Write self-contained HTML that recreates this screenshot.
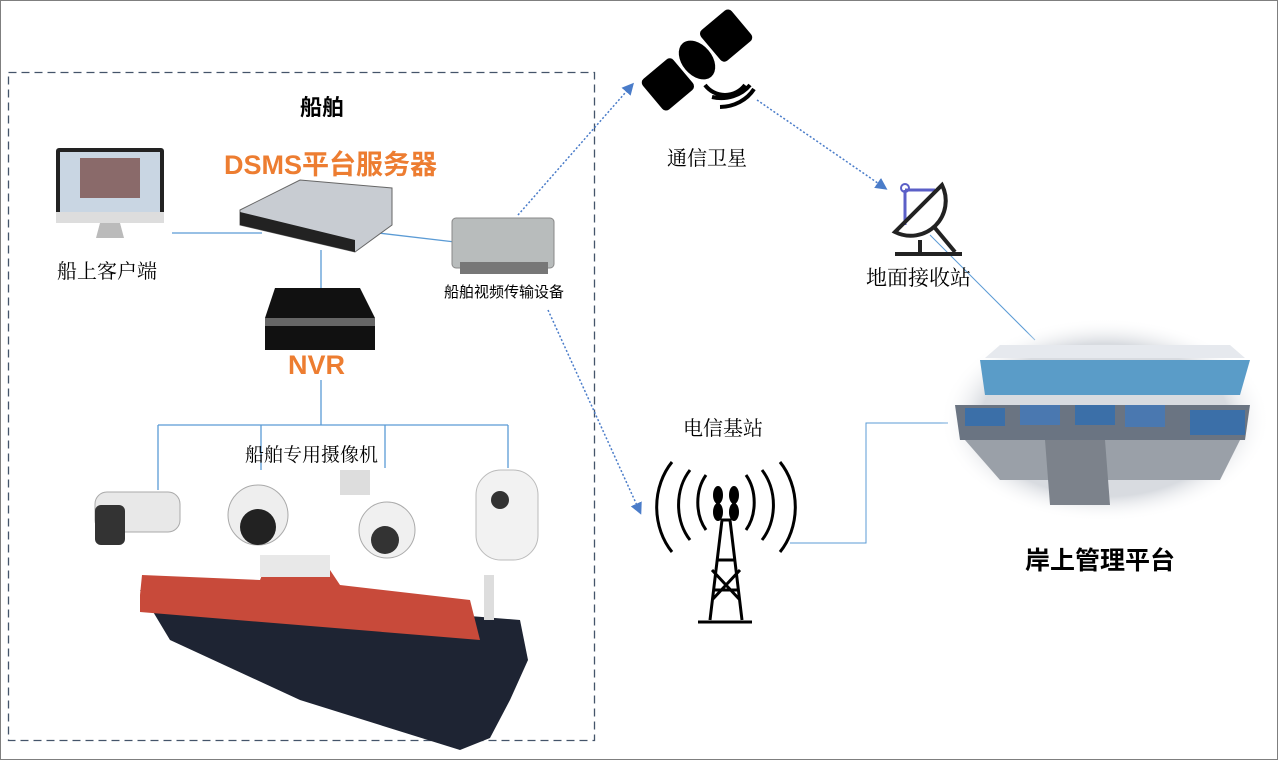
<!DOCTYPE html>
<html><head><meta charset="utf-8"><style>
body{margin:0;width:1280px;height:762px;background:#fff;overflow:hidden;font-family:"Liberation Sans","Noto Sans CJK SC",sans-serif}
.t{position:absolute;white-space:nowrap}
.s{font-family:"Noto Serif CJK SC","Liberation Serif",serif}
</style></head><body>
<svg width="1280" height="762" style="position:absolute;left:0;top:0">
<defs>
<marker id="a" markerWidth="8" markerHeight="8" refX="6" refY="4" orient="auto"><path d="M0,0 L8,4 L0,8z" fill="#4a7cc9"/></marker>
<radialGradient id="cr" cx="50%" cy="50%" r="50%"><stop offset="75%" stop-color="#d8dbe0"/><stop offset="100%" stop-color="#fff" stop-opacity="0"/></radialGradient>
</defs>
<rect x="0.5" y="0.5" width="1277" height="759" fill="none" stroke="#7f7f7f"/>
<rect x="8.5" y="72.5" width="586" height="668" fill="none" stroke="#44546a" stroke-width="1.3" stroke-dasharray="8,5"/>
<g stroke="#5b9bd5" stroke-width="1.3" fill="none">
<path d="M172,233 H262"/><path d="M370,232 L455,242"/><path d="M321,250 V290"/>
<path d="M321,380 V425 M158,425 H508 M158,425 V490 M261,425 V470 M385,425 V468 M508,425 V468"/>
<path d="M790,543 H866 V423 H948" stroke-width="1"/>
<path d="M930,235 L1035,340" stroke-width="1"/>
</g>
<g stroke="#4a7cc9" stroke-width="1.5" stroke-dasharray="2,2" fill="none" marker-end="url(#a)">
<path d="M518,215 L632,85"/><path d="M757,100 L885,188"/><path d="M548,310 L640,512"/>
</g>
<rect x="56" y="148" width="108" height="75" rx="3" fill="#222"/>
<rect x="60" y="152" width="100" height="60" fill="#c9d6e3"/>
<rect x="80" y="158" width="60" height="40" fill="#8a6a6a"/>
<rect x="56" y="212" width="108" height="11" fill="#ddd"/>
<path d="M100,223 H120 L124,238 H96z" fill="#bbb"/>
<path d="M240,210 L300,180 L392,188 L392,225 L355,252 L240,225z" fill="#c8ccd2" stroke="#666"/>
<path d="M240,212 L355,240 L355,252 L240,225z" fill="#222"/>
<rect x="452" y="218" width="102" height="50" rx="4" fill="#b8bcbc" stroke="#888"/>
<rect x="460" y="262" width="88" height="12" fill="#777"/>
<path d="M275,288 H360 L375,318 V350 H265 V318z" fill="#111"/>
<rect x="265" y="318" width="110" height="8" fill="#666"/>
<rect x="95" y="492" width="85" height="40" rx="12" fill="#e8e8e8" stroke="#aaa"/>
<rect x="95" y="505" width="30" height="40" rx="6" fill="#333"/>
<circle cx="258" cy="515" r="30" fill="#eee" stroke="#aaa"/>
<circle cx="258" cy="527" r="18" fill="#222"/>
<rect x="340" y="470" width="30" height="25" fill="#ddd"/>
<circle cx="387" cy="530" r="28" fill="#f0f0f0" stroke="#aaa"/>
<circle cx="385" cy="540" r="14" fill="#333"/>
<rect x="476" y="470" width="62" height="90" rx="25" fill="#f2f2f2" stroke="#bbb"/>
<circle cx="500" cy="500" r="9" fill="#333"/>
<path d="M140,590 L520,620 L528,660 L510,700 L490,738 L460,750 L300,700 L170,640 Z" fill="#1e2433"/>
<path d="M140,595 L142,575 L260,580 L265,568 L330,570 L340,585 L470,600 L480,640 L140,612 Z" fill="#c84a3a"/>
<rect x="260" y="555" width="70" height="22" fill="#e8e8e8"/>
<rect x="484" y="575" width="10" height="45" fill="#ddd"/>
<g fill="#000" transform="translate(697,60) rotate(-40)">
<rect x="-58" y="-20" width="40" height="40" rx="5"/><rect x="18" y="-20" width="40" height="40" rx="5"/>
<ellipse cx="0" cy="0" rx="15" ry="22"/>
</g>
<path d="M705,85 a25,25 0 0 0 40,0 M712,97 a35,30 0 0 0 38,-12 M720,107 a40,35 0 0 0 34,-18" stroke="#000" stroke-width="4" fill="none"/>
<path d="M905,190 V225 M905,190 L935,190" stroke="#5b5fc7" stroke-width="3" fill="none"/>
<circle cx="905" cy="188" r="4" fill="none" stroke="#5b5fc7" stroke-width="2"/>
<path d="M895,232 A35,35 0 0 0 942,185 Z" fill="none" stroke="#222" stroke-width="4"/>
<path d="M920,240 V252 M935,228 L955,252 M895,254 H962" stroke="#222" stroke-width="4"/>
<g stroke="#000" stroke-width="3" fill="none">
<path d="M698,622 H752 M710,620 L722,520 H730 L742,620 M714,590 L738,590 M716,560 H736 M712,600 L740,570 M712,570 L740,600"/>
<path d="M706,475 a30,40 0 0 0 0,55 M746,475 a30,40 0 0 1 0,55 M690,470 a40,50 0 0 0 0,70 M762,470 a40,50 0 0 1 0,70 M672,462 a55,65 0 0 0 0,90 M780,462 a55,65 0 0 1 0,90"/>
</g>
<ellipse cx="718" cy="495" rx="5" ry="9"/><ellipse cx="734" cy="495" rx="5" ry="9"/><ellipse cx="718" cy="512" rx="5" ry="9"/><ellipse cx="734" cy="512" rx="5" ry="9"/>
<ellipse cx="1105" cy="420" rx="165" ry="102" fill="url(#cr)"/>
<path d="M980,360 H1250 L1240,395 H985z" fill="#5a9cc8"/>
<path d="M1000,345 H1230 L1245,358 H985z" fill="#e6e9ee"/>
<path d="M955,405 L1250,405 L1245,440 L960,440z" fill="#6a7482"/>
<rect x="965" y="408" width="40" height="18" fill="#3b6fa8"/><rect x="1020" y="405" width="40" height="20" fill="#4a78b0"/><rect x="1075" y="405" width="40" height="20" fill="#3b6fa8"/><rect x="1125" y="405" width="40" height="22" fill="#4a78b0"/><rect x="1190" y="410" width="55" height="25" fill="#3b6fa8"/>
<path d="M965,440 H1240 L1220,480 H1000z" fill="#9aa0a8"/>
<path d="M1045,440 H1105 L1110,505 H1050z" fill="#7c828b"/>
</svg>
<div class="t" style="left:300px;top:90px;font-size:22px;font-weight:bold">船舶</div>
<div class="t" style="left:224px;top:143px;font-size:27px;font-weight:bold;color:#ed7d31">DSMS平台服务器</div>
<div class="t s" style="left:57px;top:255px;font-size:20px">船上客户端</div>
<div class="t" style="left:444px;top:281px;font-size:15px">船舶视频传输设备</div>
<div class="t" style="left:288px;top:350px;font-size:27px;font-weight:bold;color:#ed7d31">NVR</div>
<div class="t s" style="left:245px;top:440px;font-size:19px">船舶专用摄像机</div>
<div class="t s" style="left:667px;top:142px;font-size:20px">通信卫星</div>
<div class="t s" style="left:866px;top:262px;font-size:21px">地面接收站</div>
<div class="t s" style="left:683px;top:412px;font-size:20px">电信基站</div>
<div class="t" style="left:1025px;top:541px;font-size:25px;font-weight:bold">岸上管理平台</div>
</body></html>
